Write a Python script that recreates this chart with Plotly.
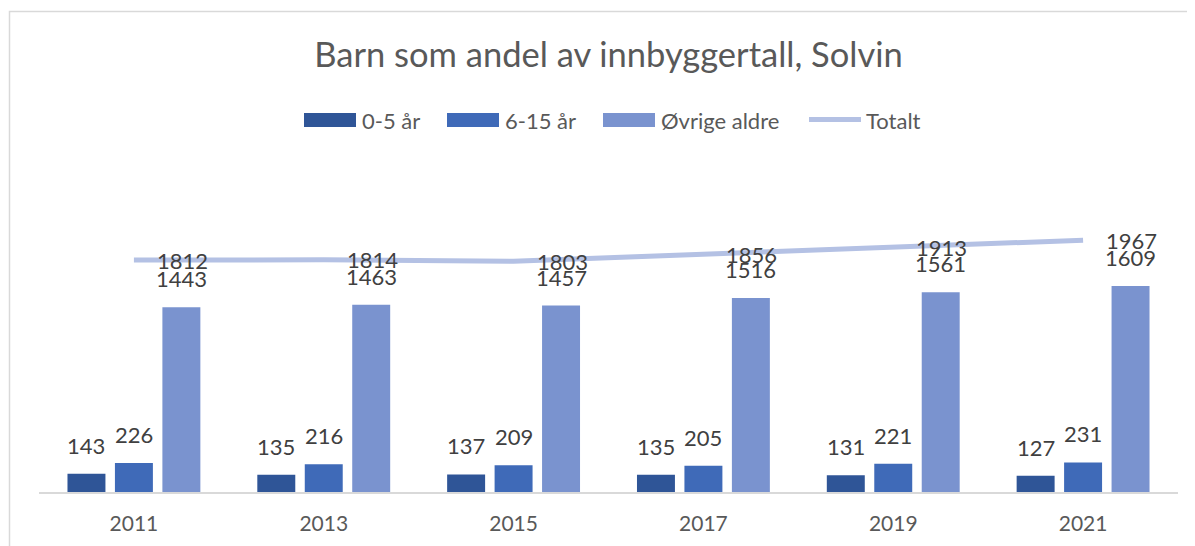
import plotly.graph_objects as go

years = ["2011", "2013", "2015", "2017", "2019", "2021"]
age_0_5 = [143, 135, 137, 135, 131, 127]
age_6_15 = [226, 216, 209, 205, 221, 231]
other_ages = [1443, 1463, 1457, 1516, 1561, 1609]
total = [1812, 1814, 1803, 1856, 1913, 1967]

series_names = ["0-5 år", "6-15 år", "Øvrige aldre"]
series_values = [age_0_5, age_6_15, other_ages]
series_colors = ["#2F5597", "#3F6AB8", "#7A93CF"]
line_name = "Totalt"
line_color = "#B4C1E4"

FONT = "Lato"
OFF = 8  # page body margin offset
W, H = 1195 - OFF, 546 - OFF
ML, MT = 39 - OFF, 180 - OFF
MR = W - (1178 - OFF)
MB = H - (492 - OFF)
PW = W - ML - MR
PH = H - MT - MB
YMAX = 2437.5
BARGAP, GROUPGAP = 0.25, 0.2
cat_w = PW / len(years)
slot = cat_w * (1 - BARGAP) / len(series_names)


def px(x):
    return (x - OFF - ML) / PW


def py(y):
    return (H - MB - (y - OFF)) / PH


fig = go.Figure()
for name, vals, col in zip(series_names, series_values, series_colors):
    fig.add_trace(go.Bar(x=years, y=vals, name=name, marker_color=col,
                         marker_line_width=0, showlegend=False))
fig.add_trace(go.Scatter(x=years, y=total, name=line_name, mode="lines",
                         line=dict(color=line_color, width=5), showlegend=False))

annotations = []
# category axis: annotation x uses the serial index of each category
for j, vals in enumerate(series_values):
    for i, v in enumerate(vals):
        annotations.append(dict(x=i, y=v, xref="x", yref="y", text=str(v),
                                showarrow=False, xanchor="center", yanchor="bottom",
                                xshift=(j - 1) * slot, yshift=13,
                                font=dict(family=FONT, size=22, color="#404040")))
for i, v in enumerate(total):
    annotations.append(dict(x=i, y=v, xref="x", yref="y", text=str(v),
                            showarrow=False, xanchor="left", yanchor="middle",
                            xshift=21, yshift=0,
                            font=dict(family=FONT, size=22, color="#404040")))

# manual legend (Excel style)
shapes = []
legend_items = [(304, 356, 360, series_names[0], series_colors[0]),
                (447, 499, 503, series_names[1], series_colors[1]),
                (603, 655, 659, series_names[2], series_colors[2])]
for x0, x1, tx, name, col in legend_items:
    shapes.append(dict(type="rect", xref="paper", yref="paper",
                       x0=px(x0), x1=px(x1), y0=py(127), y1=py(113),
                       fillcolor=col, line=dict(width=0)))
    annotations.append(dict(x=px(tx), y=py(120), xref="paper", yref="paper",
                            text=name, showarrow=False, xanchor="left", yanchor="middle",
                            font=dict(family=FONT, size=22, color="#595959")))
shapes.append(dict(type="line", xref="paper", yref="paper",
                   x0=px(809), x1=px(861), y0=py(119.5), y1=py(119.5),
                   line=dict(color=line_color, width=5)))
annotations.append(dict(x=px(864), y=py(120), xref="paper", yref="paper",
                        text=line_name, showarrow=False, xanchor="left", yanchor="middle",
                        font=dict(family=FONT, size=22, color="#595959")))

# chart border
shapes.append(dict(type="rect", xref="paper", yref="paper",
                   x0=px(9.5), x1=px(1210), y0=py(560), y1=py(11.5),
                   line=dict(color="#D9D9D9", width=1.5), fillcolor="rgba(0,0,0,0)",
                   layer="below"))

fig.update_layout(
    width=W, height=H,
    margin=dict(l=ML, r=MR, t=MT, b=MB, pad=0, autoexpand=False),
    paper_bgcolor="white", plot_bgcolor="white",
    barmode="group", bargap=BARGAP, bargroupgap=GROUPGAP,
    title=dict(text="Barn som andel av innbyggertall, Solvin",
               x=px(608.5), xanchor="center", xref="paper",
               y=1 - (55 - OFF) / H, yanchor="middle",
               font=dict(family=FONT, size=34.5, color="#595959")),
    showlegend=False,
    xaxis=dict(type="category", range=[-0.5, len(years) - 0.5],
               showline=True, linecolor="#D9D9D9", linewidth=1.5,
               showgrid=False, zeroline=False, ticks="outside", ticklen=12,
               tickcolor="rgba(0,0,0,0)", automargin=False,
               tickfont=dict(family=FONT, size=21, color="#595959")),
    yaxis=dict(range=[0, YMAX], visible=False, showgrid=False, zeroline=False,
               automargin=False),
    annotations=annotations,
    shapes=shapes,
)

fig.write_html("out.html")
